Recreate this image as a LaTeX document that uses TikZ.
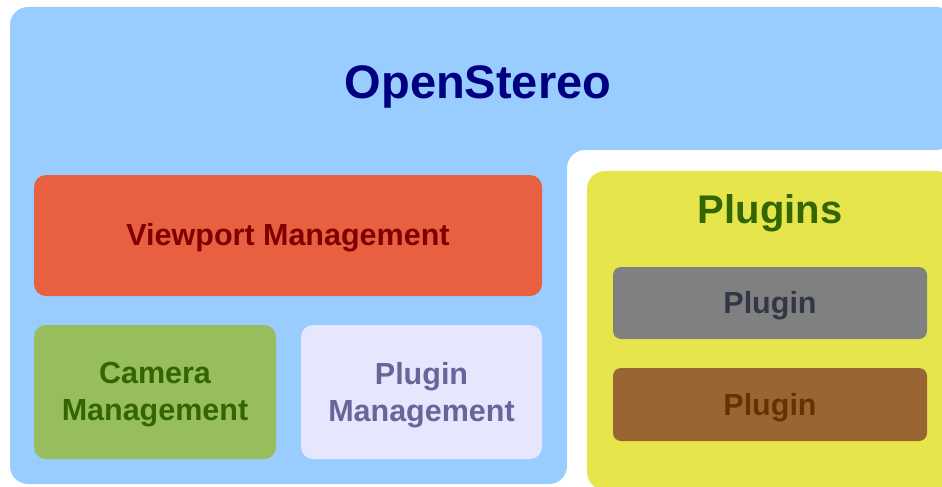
\documentclass[tikz,border=0pt]{standalone}
\usepackage{fontspec}
\setmainfont{Liberation Sans}
\definecolor{bgblue}{RGB}{153,204,255}
\definecolor{vpfill}{RGB}{233,96,64}
\definecolor{vptext}{RGB}{128,0,0}
\definecolor{camfill}{RGB}{151,189,92}
\definecolor{camtext}{RGB}{51,102,0}
\definecolor{pmfill}{RGB}{230,230,255}
\definecolor{pmtext}{RGB}{102,102,153}
\definecolor{plfill}{RGB}{230,230,76}
\definecolor{pltext}{RGB}{51,102,0}
\definecolor{grayfill}{RGB}{128,128,128}
\definecolor{graytext}{RGB}{50,55,70}
\definecolor{brownfill}{RGB}{153,102,51}
\definecolor{browntext}{RGB}{102,51,0}
\definecolor{titletext}{RGB}{0,0,128}
\tikzset{
  boxshape/.style={rectangle, rounded corners=12pt, draw=none, inner sep=0pt, outer sep=0pt},
  smallbox/.style={rectangle, rounded corners=8pt, draw=none, inner sep=0pt, outer sep=0pt},
  boxlabel/.style={inner sep=0pt, align=center, font=\bfseries\fontsize{30.5}{37}\selectfont},
}
\begin{document}
\begin{tikzpicture}[x=1pt,y=-1pt]
\useasboundingbox (0,0) rectangle (942,487);
\clip (0,0) rectangle (942,487);
\fill[white] (0,0) rectangle (942,487);
% main blue area with notch
\fill[bgblue, rounded corners=18pt] (10,300) -- (10,7) -- (954,7) -- (954,150) -- (567,150) -- (567,484) -- (10,484) -- cycle;
% plugins area
\node[boxshape, rounded corners=18pt, fill=plfill, minimum width=367pt, minimum height=319pt] (plugins) at (770.5,330.5) {};
% boxes
\node[boxshape, fill=vpfill, minimum width=508pt, minimum height=121pt] (viewport) at (288,235.5) {};
\node[boxshape, fill=camfill, minimum width=242pt, minimum height=134pt] (camera) at (155,392) {};
\node[boxshape, fill=pmfill, minimum width=241pt, minimum height=134pt] (pluginmgmt) at (421.5,392) {};
\node[smallbox, fill=grayfill, minimum width=314pt, minimum height=72pt] (plugina) at (770,303) {};
\node[smallbox, fill=brownfill, minimum width=314pt, minimum height=73pt] (pluginb) at (770,404.5) {};
% texts
\node[anchor=base, inner sep=0pt, text=titletext, font=\bfseries\fontsize{47}{56}\selectfont] (title) at (478,98) {OpenStereo};
\node[anchor=base, inner sep=0pt, text=pltext, font=\bfseries\fontsize{40}{48}\selectfont] (pluginstitle) at (770,223) {Plugins};
\node[anchor=base, boxlabel, text=vptext] (viewporttext) at (288,245) {Viewport Management};
\node[boxlabel, text=camtext] (cameratext) at (155,395) {Camera\\Management};
\node[boxlabel, text=pmtext] (pluginmgmttext) at (421.5,395) {Plugin\\Management};
\node[anchor=base, boxlabel, text=graytext] (pluginatext) at (770,313) {Plugin};
\node[anchor=base, boxlabel, text=browntext] (pluginbtext) at (770,415) {Plugin};
\end{tikzpicture}
\end{document}
